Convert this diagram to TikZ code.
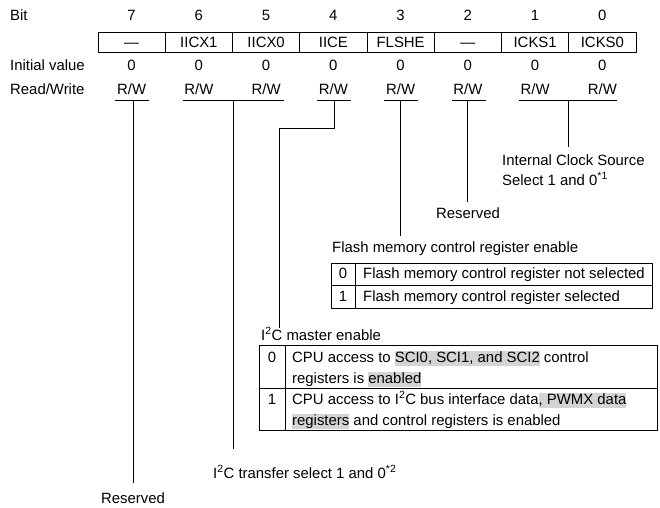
\documentclass[tikz,border=0pt]{standalone}
\usepackage{fontspec}
\setmainfont{Liberation Sans}
\definecolor{hlgray}{gray}{0.83}
\newcommand\hlt[1]{{\setlength\fboxsep{0pt}\colorbox{hlgray}{\rule[-0.24em]{0pt}{0.98em}#1}}}
\begin{document}
\begin{tikzpicture}[x=1pt,y=-1pt,
  txt/.style={inner sep=0pt, font=\fontsize{14.9}{17}\selectfont},
  lbl/.style={txt, anchor=base west},
  ctr/.style={txt, anchor=base},
  ln/.style={line width=0.85pt}]
\useasboundingbox (0,0) rectangle (660,507);
% row labels
\node[lbl] (bitlbl) at (10,20) {Bit};
\node[lbl] (initlbl) at (10,70) {Initial value};
\node[lbl] (rwlbl) at (10,94) {Read/Write};
% register box
\draw[ln] (98,32) rectangle (636,52);
\foreach \k in {1,...,7} \draw[ln] ({98+67.25*\k},32) -- ++(0,20);
\foreach \k/\b/\nm in {0/7/\textemdash,1/6/IICX1,2/5/IICX0,3/4/IICE,4/3/FLSHE,5/2/\textemdash,6/1/ICKS1,7/0/ICKS0} {
  \pgfmathsetmacro\cx{98+67.25*(\k+0.5)}
  \node[ctr] (bit\b) at (\cx,20) {\b};
  \node[ctr] (name\b) at (\cx,47.5) {\nm};
  \node[ctr] (init\b) at (\cx,70) {0};
  \node[ctr] (rw\b) at (\cx,94) {R/W};
}
% underlines
\draw[ln] (rw7.west |- 0,100) ++(-1.5,0) -- ++(34,0);
\draw[ln] (rw6.west |- 0,100) ++(-1.5,0) -- (284,100);
\draw[ln] (rw4.west |- 0,100) ++(-1.5,0) -- ++(34,0);
\draw[ln] (rw3.west |- 0,100) ++(-1.5,0) -- ++(34,0);
\draw[ln] (rw2.west |- 0,100) ++(-1.5,0) -- ++(34,0);
\draw[ln] (rw1.west |- 0,100) ++(-1.5,0) -- (617,100);
\coordinate (u7) at (133,100);
\coordinate (u65) at (233,100);
\coordinate (u4) at (334,100);
\coordinate (u3) at (400,100);
\coordinate (u2) at (467,100);
\coordinate (u10) at (568,100);
% labels
\node[lbl] (icks1) at (502,165) {Internal Clock Source};
\node[lbl] (icks2) at (502,185) {Select 1 and 0\textsuperscript{*1}};
\node[ctr] (res2) at (468,218) {Reserved};
\node[lbl] (flt) at (332,252) {Flash memory control register enable};
\node[lbl] (i2ct) at (261,340) {I\textsuperscript{2}C master enable};
\node[lbl] (i2cx) at (213,478) {I\textsuperscript{2}C transfer select 1 and 0\textsuperscript{*2}};
\node[ctr] (res7) at (133,503) {Reserved};
% connectors
\coordinate (e10) at (568,147);
\coordinate (e2) at (467,202);
\coordinate (e3) at (400,236);
\coordinate (e4) at (279,328);
\coordinate (e65) at (233,449);
\coordinate (e7) at (133,483);
\draw[ln] (u10) -- (e10);
\draw[ln] (u2) -- (e2);
\draw[ln] (u3) -- (e3);
\draw[ln] (u4) -- (334,128) -- (e4 |- 0,128) -- (e4);
\draw[ln] (u65) -- (e65);
\draw[ln] (u7) -- (e7);
% flash table
\draw[ln] (331,263) rectangle (652,308);
\draw[ln] (331,285.5) -- (652,285.5);
\draw[ln] (355,263) -- (355,308);
\node[ctr] (f0n) at (343,278) {0};
\node[ctr] (f1n) at (343,301) {1};
\node[lbl] (f0t) at (363,278) {Flash memory control register not selected};
\node[lbl] (f1t) at (363,301) {Flash memory control register selected};
% I2C table
\draw[ln] (259,345) rectangle (657,430);
\draw[ln] (259,388) -- (657,388);
\draw[ln] (285,345) -- (285,430);
\node[ctr] (m0n) at (272,362) {0};
\node[ctr] (m1n) at (272,404) {1};
\node[lbl] (m0a) at (292,362) {CPU access to \hlt{SCI0, SCI1, and SCI2} control};
\node[lbl] (m0b) at (292,383) {registers is \hlt{enabled}};
\node[lbl] (m1a) at (292,404) {CPU access to I\textsuperscript{2}C bus interface data\hlt{, PWMX data}};
\node[lbl] (m1b) at (292,425) {\hlt{registers} and control registers is enabled};
\end{tikzpicture}
\end{document}
